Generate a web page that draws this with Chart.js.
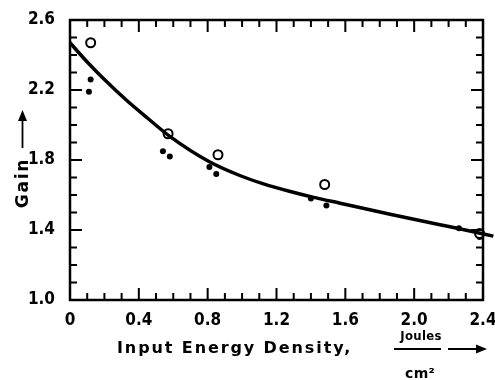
<!DOCTYPE html>
<html>
<head>
<meta charset="utf-8">
<script src="https://cdn.jsdelivr.net/npm/chart.js@4.4.1/dist/chart.umd.min.js"></script>
<style>
  html, body { margin: 0; padding: 0; background: #fff; }
  #wrap { width: 495px; height: 380px; }
</style>
</head>
<body>
<div id="wrap"><canvas id="Grafico" width="495" height="380"></canvas></div>
<script>
// values
const openX = [0.12, 0.57, 0.86, 1.48, 2.38];
const openY = [2.47, 1.95, 1.83, 1.66, 1.38];
const dotX = [0.11, 0.12, 0.54, 0.58, 0.81, 0.85, 1.40, 1.49, 2.26, 2.38];
const dotY = [2.19, 2.26, 1.85, 1.82, 1.76, 1.72, 1.58, 1.54, 1.41, 1.36];
const fitX = [0, 0.1, 0.2, 0.33, 0.45, 0.58, 0.81, 0.99, 1.12, 1.28, 1.41, 1.57, 1.86, 2.15, 2.25, 2.46];
const fitY = [2.47, 2.36, 2.26, 2.14, 2.04, 1.935, 1.79, 1.71, 1.665, 1.62, 1.588, 1.553, 1.49, 1.43, 1.41, 1.365];
const xTickLabels = ['0', '0.4', '0.8', '1.2', '1.6', '2.0', '2.4'];
const yTickLabels = ['1.0', '1.4', '1.8', '2.2', '2.6'];

const tickFont = { family: "'DejaVu Sans Condensed', 'Liberation Sans Narrow', sans-serif", size: 17, weight: 'bold' };

function pts(xs, ys) {
  return xs.map((x, i) => ({ x: x, y: ys[i] }));
}

// frame, inward ticks and axis titles
const framePlugin = {
  id: 'frame',
  afterDraw(chart) {
    const ctx = chart.ctx;
    const a = chart.chartArea;
    const sx = chart.scales.x, sy = chart.scales.y;
    ctx.save();
    ctx.strokeStyle = '#000';
    ctx.lineWidth = 2.5;
    ctx.strokeRect(a.left, a.top, a.right - a.left, a.bottom - a.top);

    ctx.lineWidth = 2;
    ctx.beginPath();
    for (let k = 0; k <= 24; k++) {
      const px = sx.getPixelForValue(k / 10);
      const len = k % 4 === 0 ? 12 : 7;
      ctx.moveTo(px, a.bottom); ctx.lineTo(px, a.bottom - len);
      ctx.moveTo(px, a.top); ctx.lineTo(px, a.top + len);
    }
    for (let k = 10; k <= 26; k++) {
      const py = sy.getPixelForValue(k / 10);
      const len = (k - 10) % 4 === 0 ? 12 : 7;
      ctx.moveTo(a.left, py); ctx.lineTo(a.left + len, py);
      ctx.moveTo(a.right, py); ctx.lineTo(a.right - len, py);
    }
    ctx.stroke();

    // x title
    ctx.fillStyle = '#000';
    ctx.font = "bold 16px 'DejaVu Sans', sans-serif";
    ctx.letterSpacing = '1.9px';
    ctx.textBaseline = 'middle';
    ctx.textAlign = 'left';
    ctx.fillText('Input Energy Density,', 117, 349);
    ctx.letterSpacing = '0.3px';
    ctx.textAlign = 'center';
    ctx.font = "bold 13px 'DejaVu Sans Condensed', 'DejaVu Sans', sans-serif";
    ctx.fillText('Joules', 421, 337);
    ctx.font = "bold 14px 'DejaVu Sans', sans-serif";
    ctx.textBaseline = 'alphabetic';
    ctx.fillText('cm²', 420, 378);
    ctx.lineWidth = 1.8;
    ctx.beginPath();
    ctx.moveTo(394, 349); ctx.lineTo(441, 349);
    ctx.moveTo(448, 349); ctx.lineTo(478, 349);
    ctx.stroke();
    ctx.beginPath();
    ctx.moveTo(487, 349); ctx.lineTo(476, 344.5); ctx.lineTo(476, 353.5);
    ctx.closePath(); ctx.fill();

    // y title
    ctx.save();
    ctx.translate(24, 183);
    ctx.rotate(-Math.PI / 2);
    ctx.font = "bold 17px 'DejaVu Sans', sans-serif";
    ctx.letterSpacing = '1.8px';
    ctx.textAlign = 'center';
    ctx.textBaseline = 'middle';
    ctx.fillText('Gain', 0, 0);
    ctx.restore();
    ctx.beginPath();
    ctx.moveTo(22.5, 148); ctx.lineTo(22.5, 118);
    ctx.stroke();
    ctx.beginPath();
    ctx.moveTo(22.5, 110); ctx.lineTo(18, 121); ctx.lineTo(27, 121);
    ctx.closePath(); ctx.fill();
    ctx.restore();
  }
};

let canva = document.getElementById('Grafico').getContext('2d');
var chart = new Chart(canva, {
  type: 'scatter',
  data: {
    datasets: [
      {
        label: 'fit',
        data: pts(fitX, fitY),
        showLine: true,
        borderColor: '#000',
        borderWidth: 3.5,
        pointRadius: 0,
        cubicInterpolationMode: 'monotone',
        clip: false
      },
      {
        label: 'open',
        data: pts(openX, openY),
        pointRadius: 4.5,
        pointBorderWidth: 2,
        pointBackgroundColor: '#fff',
        pointBorderColor: '#000',
        clip: false
      },
      {
        label: 'filled',
        data: pts(dotX, dotY),
        pointRadius: 3,
        pointBorderWidth: 0,
        pointBackgroundColor: '#000',
        pointBorderColor: '#000',
        clip: false
      }
    ]
  },
  options: {
    responsive: false,
    animation: false,
    devicePixelRatio: 1,
    layout: { padding: { top: 20, right: 12, left: 0, bottom: 0 } },
    plugins: { legend: { display: false }, tooltip: { enabled: false } },
    scales: {
      x: {
        type: 'linear',
        min: 0, max: 2.4,
        grid: { display: false },
        border: { display: false },
        ticks: {
          stepSize: 0.4,
          maxRotation: 0,
          padding: 2,
          color: '#000',
          font: tickFont,
          callback: (v, i) => xTickLabels[i]
        },
        afterFit: s => { s.height = 80; s.paddingLeft = 0; s.paddingRight = 0; }
      },
      y: {
        type: 'linear',
        min: 1.0, max: 2.6,
        grid: { display: false },
        border: { display: false },
        ticks: {
          stepSize: 0.4,
          padding: 7,
          color: '#000',
          font: tickFont,
          callback: (v, i) => yTickLabels[i]
        },
        afterFit: s => { s.width = 70; s.paddingTop = 0; s.paddingBottom = 0; }
      }
    }
  },
  plugins: [framePlugin]
});
</script>
</body>
</html>
